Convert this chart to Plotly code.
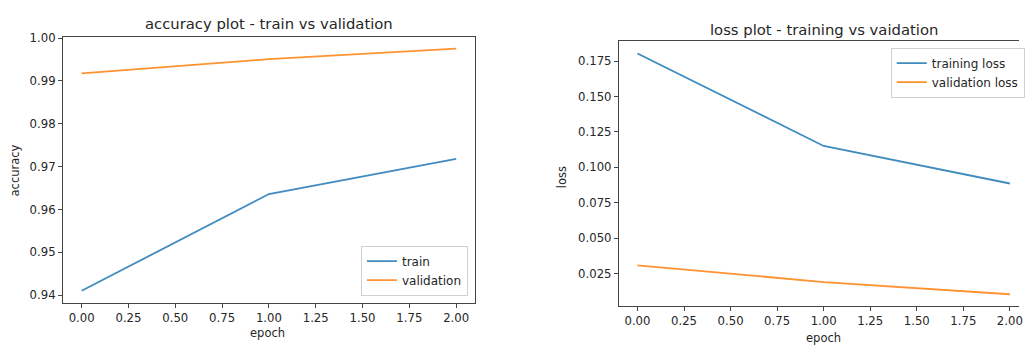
import plotly.graph_objects as go

epochs = [0, 1, 2]
train_acc = [0.9410, 0.9636, 0.9718]
val_acc = [0.99178, 0.99508, 0.99754]
train_loss = [0.1804, 0.1151, 0.0886]
val_loss = [0.0308, 0.0190, 0.0104]

acc_ticks = [0.94, 0.95, 0.96, 0.97, 0.98, 0.99, 1.00]
loss_ticks = [0.025, 0.050, 0.075, 0.100, 0.125, 0.150, 0.175]
epoch_ticks = [0, 0.25, 0.5, 0.75, 1.0, 1.25, 1.5, 1.75, 2.0]

BLUE = "#1f77b4"
ORANGE = "#ff7f0e"
FONT = "DejaVu Sans"
TXT = "#262626"
W, H = 1025, 345

fig = go.Figure()
fig.add_trace(go.Scatter(x=epochs, y=train_acc, mode="lines", name="train",
                         line=dict(color=BLUE, width=1.8), opacity=0.85,
                         xaxis="x", yaxis="y", legend="legend"))
fig.add_trace(go.Scatter(x=epochs, y=val_acc, mode="lines", name="validation",
                         line=dict(color=ORANGE, width=1.8), opacity=0.85,
                         xaxis="x", yaxis="y", legend="legend"))
fig.add_trace(go.Scatter(x=epochs, y=train_loss, mode="lines", name="training loss",
                         line=dict(color=BLUE, width=1.8), opacity=0.85,
                         xaxis="x2", yaxis="y2", legend="legend2"))
fig.add_trace(go.Scatter(x=epochs, y=val_loss, mode="lines", name="validation loss",
                         line=dict(color=ORANGE, width=1.8), opacity=0.85,
                         xaxis="x2", yaxis="y2", legend="legend2"))

axis_common = dict(showgrid=False, zeroline=False, showline=True, linecolor="#444",
                   linewidth=1, ticks="outside", ticklen=4, tickcolor="#444",
                   ticklabeloverflow="allow",
                   tickfont=dict(family=FONT, size=11.7, color=TXT))

def px(v):
    return v / W

def py(v):
    return (H - v) / H

fig.update_layout(
    width=W, height=H,
    margin=dict(l=0, r=0, t=0, b=0),
    paper_bgcolor="white", plot_bgcolor="white",
    font=dict(family=FONT, color=TXT),
    xaxis=dict(axis_common, domain=[px(63.3), px(477.7)], range=[-0.1, 2.1],
               tickvals=epoch_ticks, tickformat=".2f", mirror=True, anchor="y"),
    yaxis=dict(axis_common, domain=[py(302.3), py(32)], range=[0.93817, 1.00037],
               tickvals=acc_ticks, tickformat=".2f", mirror=True, anchor="x"),
    xaxis2=dict(axis_common, domain=[px(622.5), 1.0], range=[-0.1, 2.049],
                tickvals=epoch_ticks, tickformat=".2f", mirror=True, anchor="y2"),
    yaxis2=dict(axis_common, domain=[py(305.7), py(37)], range=[0.0019, 0.1889],
                tickvals=loss_ticks, tickformat=".3f", mirror=False, anchor="x2"),
    legend=dict(x=px(470.7), y=py(295), xanchor="right", yanchor="bottom",
                bgcolor="white", bordercolor="#d0d0d0", borderwidth=1,
                font=dict(family=FONT, size=12, color=TXT), itemwidth=30,
                tracegroupgap=0),
    legend2=dict(x=px(896), y=py(43.3), xanchor="left", yanchor="top",
                 bgcolor="white", bordercolor="#d0d0d0", borderwidth=1,
                 font=dict(family=FONT, size=12, color=TXT), itemwidth=30,
                 tracegroupgap=0),
    showlegend=True,
)

ann = [
    dict(text="accuracy plot - train vs validation", x=px(270.5), y=py(19), size=14.8, angle=0),
    dict(text="loss plot - training vs vaidation", x=px(828.5), y=py(25), size=14.8, angle=0),
    dict(text="epoch", x=px(269), y=py(333), size=11.5, angle=0),
    dict(text="epoch", x=px(828), y=py(337.5), size=11.5, angle=0),
    dict(text="accuracy", x=px(15), y=py(168), size=11.5, angle=-90),
    dict(text="loss", x=px(566), y=py(175), size=11.5, angle=-90),
]
for a in ann:
    fig.add_annotation(text=a["text"], x=a["x"], y=a["y"], xref="paper", yref="paper",
                       xanchor="center", yanchor="middle", showarrow=False,
                       textangle=a["angle"],
                       font=dict(family=FONT, size=a["size"], color=TXT))

fig.write_html("out.html", config={"displayModeBar": False},
               post_script="document.body.style.margin='0';document.body.style.overflow='hidden';")
